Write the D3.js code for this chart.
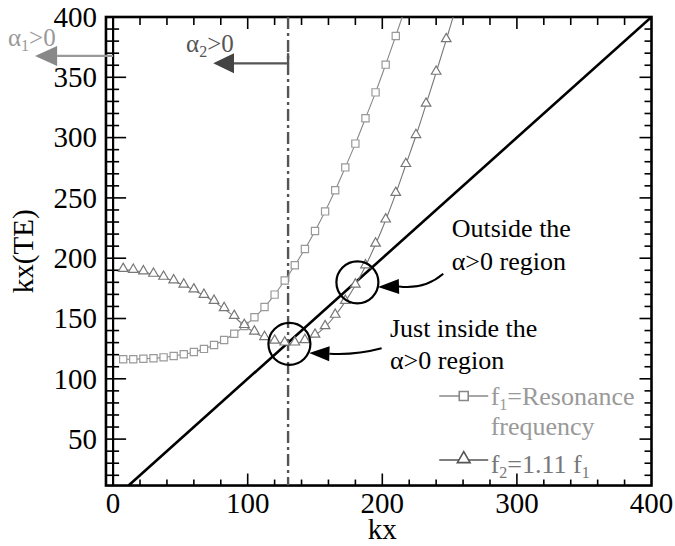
<!DOCTYPE html>
<html><head><meta charset="utf-8">
<script src="https://cdn.jsdelivr.net/npm/d3@7"></script>
</head><body style="margin:0"><svg id="c" width="675" height="546"></svg>
<script>
// ---- data ----
const f1X = [7.5,15,22.5,30,37.5,45,52.5,60,67.5,75,82.5,90,97.5,105,112.5,120,127.5,135,142.5,150,157.5,165,172.5,180,187.5,195,202.5,210,217.5];
const f1Y = [116.2,116.2,116.6,117.1,117.8,118.9,120.3,122.2,124.8,128,132.2,137.3,143.8,151,159.5,169.8,181.5,194.2,207.6,222.6,238.8,256.3,275.3,295,316,337.5,360.5,384.2,409];
const f2X = [7.5,15,22.5,30,37.5,45,52.5,60,67.5,75,82.5,90,97.5,105,112.5,120,127.5,135,142.5,150,157.5,165,172.5,180,187.5,195,202.5,210,217.5,225,232.5,240,247.5,255];
const f2Y = [190.5,189.8,188.5,186.5,184,181,177.5,173.5,169,164,158,151.5,144,138.5,134,131,129.5,129.5,131.5,136,143,152.5,164,177.5,193.5,211.5,231.5,253.5,277.5,301.5,327.5,354,381,409];
const xTickLabels = [0,100,200,300,400];
const yTickLabels = [50,100,150,200,250,300,350,400];
const alphaLineX = 130;
const circleCenters = [[131,129],[181.5,180]];
const annotationLines = [["Outside the","α>0 region"],["Just inside the","α>0 region"]];
const legendLabels = ["Resonance","frequency","=1.11 f"];

// ---- layout ----
const svg = d3.select("#c");
const xMin = -5.3, xMax = 400, yMin = 11.5, yMax = 400;
const x = d3.scaleLinear().domain([0,400]).range([113.1,651.5]);
const y = d3.scaleLinear().domain([0,400]).range([499.4,17]);
function txt(sel){ return sel.append("text").attr("font-family","Liberation Serif, Times, serif").style("font-family","\"Liberation Serif\", Times, serif"); }

svg.append("defs").append("clipPath").attr("id","clip").append("rect")
  .attr("x",x(xMin)).attr("y",y(yMax)).attr("width",x(xMax)-x(xMin)).attr("height",y(yMin)-y(yMax));

// ticks
const tk = svg.append("g").attr("stroke","#000").attr("stroke-width",1.6);
d3.range(20,400,20).forEach(v=>{
  const L = v%100===0?12:6;
  tk.append("line").attr("x1",x(v)).attr("x2",x(v)).attr("y1",y(yMin)).attr("y2",y(yMin)-L);
  tk.append("line").attr("x1",x(v)).attr("x2",x(v)).attr("y1",y(yMax)).attr("y2",y(yMax)+(v%100===0?12:8));
});
d3.range(20,400,10).forEach(v=>{
  const L = v%50===0?13:6;
  tk.append("line").attr("x1",x(xMin)).attr("x2",x(0)+L).attr("y1",y(v)).attr("y2",y(v));
  tk.append("line").attr("x1",x(xMax)).attr("x2",x(xMax)-(v%50===0?12:7)).attr("y1",y(v)).attr("y2",y(v));
});

// x=0 line and frame
svg.append("line").attr("x1",x(0)).attr("x2",x(0)).attr("y1",y(yMax)).attr("y2",y(yMin))
  .attr("stroke","#000").attr("stroke-width",2.2);
svg.append("rect").attr("x",x(xMin)).attr("y",y(yMax)).attr("width",x(xMax)-x(xMin)).attr("height",y(yMin)-y(yMax))
  .attr("fill","none").attr("stroke","#000").attr("stroke-width",2.6);

// tick labels
xTickLabels.forEach(d=>{
  txt(svg).attr("x",x(d)).attr("y",513).attr("text-anchor","middle").attr("font-size",29).text(d);
});
yTickLabels.forEach(d=>{
  txt(svg).attr("x",97).attr("y",y(d)).attr("dy","0.34em").attr("text-anchor","end").attr("font-size",29).text(d);
});
txt(svg).attr("x",x(200)).attr("y",539).attr("text-anchor","middle").attr("font-size",29).text("kx");
txt(svg).attr("transform",`translate(33,${(y(yMin)+y(yMax))/2}) rotate(-90)`)
  .attr("text-anchor","middle").attr("font-size",29).text("kx(TE)");

const plot = svg.append("g").attr("clip-path","url(#clip)");

// diagonal y = x
plot.append("line").attr("x1",x(yMin)).attr("y1",y(yMin)).attr("x2",x(400)).attr("y2",y(400))
  .attr("stroke","#000").attr("stroke-width",2.6);

// dash-dot vertical line
plot.append("line").attr("x1",x(alphaLineX)).attr("x2",x(alphaLineX)).attr("y1",y(yMax)).attr("y2",y(yMin))
  .attr("stroke","#555").attr("stroke-width",2.4).attr("stroke-dasharray","12,4,3,4");

// curves
const line = d3.line().curve(d3.curveCatmullRom).x(d=>x(d[0])).y(d=>y(d[1]));
const f1 = f1X.map((v,i)=>[v,f1Y[i]]);
const f2 = f2X.map((v,i)=>[v,f2Y[i]]);
plot.append("path").datum(f1).attr("d",line).attr("fill","none").attr("stroke","#888").attr("stroke-width",1.1);
plot.append("path").datum(f2).attr("d",line).attr("fill","none").attr("stroke","#777").attr("stroke-width",1.1);
const sq = d3.symbol().type(d3.symbolSquare).size(52);
const tri = d3.symbol().type(d3.symbolTriangle).size(40);
plot.selectAll(".sq").data(f1).join("path").attr("class","sq")
  .attr("transform",d=>`translate(${x(d[0])},${y(d[1])})`).attr("d",sq)
  .attr("fill","#fff").attr("stroke","#999").attr("stroke-width",1.2);
plot.selectAll(".tri").data(f2).join("path").attr("class","tri")
  .attr("transform",d=>`translate(${x(d[0])},${y(d[1])-1})`).attr("d",tri)
  .attr("fill","#fff").attr("stroke","#777").attr("stroke-width",1.2);

// circles
svg.selectAll(".circ").data(circleCenters).join("circle").attr("class","circ")
  .attr("cx",d=>x(d[0])).attr("cy",d=>y(d[1])).attr("r",21)
  .attr("fill","none").attr("stroke","#000").attr("stroke-width",2.2);

// annotation texts
const annPos = [[251.6,217.8,190.2],[205.7,134.9,107.9]];
annotationLines.forEach((lines,i)=>{
  const p = annPos[i];
  txt(svg).attr("x",x(p[0])).attr("y",y(p[1])).attr("font-size",26).text(lines[0]);
  txt(svg).attr("x",x(p[0])).attr("y",y(p[2])).attr("font-size",26).text(lines[1]);
});

// curved arrows (data coordinates)
const arrows = [
  {tip:[196.8,176.1], base:[212.4,176.6], ctrl:[231.5,174], end:[245.3,187.2], hw:7.5},
  {tip:[145.7,121.4], base:[160.7,120.8], ctrl:[180,119.5], end:[199.5,125.3], hw:7.5}
];
arrows.forEach(a=>{
  const p = d3.path();
  p.moveTo(x(a.base[0]),y(a.base[1]));
  p.quadraticCurveTo(x(a.ctrl[0]),y(a.ctrl[1]),x(a.end[0]),y(a.end[1]));
  svg.append("path").attr("d",p.toString()).attr("fill","none").attr("stroke","#000").attr("stroke-width",2);
  const tx=x(a.tip[0]), ty=y(a.tip[1]), bx=x(a.base[0]), by=y(a.base[1]);
  const dx=bx-tx, dy=by-ty, len=Math.hypot(dx,dy), nx=-dy/len, ny=dx/len;
  svg.append("path").attr("d",`M${tx},${ty}L${bx+nx*a.hw},${by+ny*a.hw}L${bx-nx*a.hw},${by-ny*a.hw}Z`).attr("fill","#000");
});

// alpha arrows
function alphaArrow(yv, xStart, xBase, xTip, lineCol, headCol){
  svg.append("line").attr("x1",x(xStart)).attr("x2",x(xBase)).attr("y1",y(yv)).attr("y2",y(yv))
    .attr("stroke",lineCol).attr("stroke-width",2.2);
  svg.append("path").attr("d",`M${x(xTip)},${y(yv)}L${x(xBase)},${y(yv)-10}L${x(xBase)},${y(yv)+10}Z`).attr("fill",headCol);
}
alphaArrow(367.7, 0, -41.6, -58, "#999", "#888");
alphaArrow(361.6, alphaLineX, 89.8, 74.4, "#555", "#444");
svg.append("line").attr("x1",x(alphaLineX)).attr("x2",x(alphaLineX)).attr("y1",y(361.6)).attr("y2",y(370))
  .attr("stroke","#555").attr("stroke-width",2.4);

function alphaText(xv,yv,sub,col){
  const t = txt(svg).attr("x",x(xv)).attr("y",y(yv)).attr("font-size",25).attr("fill",col);
  t.append("tspan").text("α");
  t.append("tspan").attr("font-size",16).attr("dy",5).text(sub);
  t.append("tspan").attr("dy",-5).text(">0");
}
alphaText(-78.1,376,"1","#999");
alphaText(54.2,371,"2","#555");

// legend
const legRows = [{y:85.7, col:"#999", lcol:"#888", sub:"1", text:legendLabels[0]},{y:32.7,col:"#777",lcol:"#555",sub:"2",text:legendLabels[2]}];
legRows.forEach((r,i)=>{
  svg.append("line").attr("x1",x(242.3)).attr("x2",x(278.7)).attr("y1",y(r.y)).attr("y2",y(r.y)).attr("stroke",r.lcol).attr("stroke-width",1.6);
  svg.append("path").attr("transform",`translate(${x(260.5)},${y(r.y)-(i?1:0)})`).attr("d",d3.symbol().type(i?d3.symbolTriangle:d3.symbolSquare).size(i?70:80))
    .attr("fill","#fff").attr("stroke",r.lcol).attr("stroke-width",1.6);
  const t = txt(svg).attr("x",x(280.5)).attr("y",y(i?21.5:78.3)).attr("font-size",26).attr("fill",r.col);
  t.append("tspan").text("f");
  t.append("tspan").attr("font-size",16).attr("dy",5).text(r.sub);
  if(i===0){ t.append("tspan").attr("dy",-5).text("="+r.text); }
  else { t.append("tspan").attr("dy",-5).text(r.text); t.append("tspan").attr("font-size",16).attr("dy",5).text("1"); }
});
txt(svg).attr("x",x(280.5)).attr("y",y(53.4)).attr("font-size",26).attr("fill","#999").text(legendLabels[1]);
</script></body></html>
